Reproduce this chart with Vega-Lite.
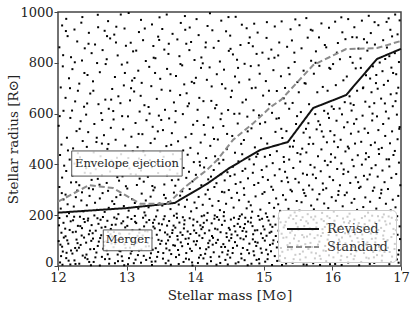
{
"$schema": "https://vega.github.io/schema/vega-lite/v6.json",
"width": 343, "height": 254,
"autosize": {"type": "none"},
"padding": {"left": 58, "top": 12, "right": 14, "bottom": 44},
"background": "white",
"config": {
  "font": "'DejaVu Serif', serif",
  "view": {"stroke": "#444", "strokeWidth": 1.5},
  "axis": {"grid": false, "domain": false, "tickColor": "#444", "tickSize": 4, "labelPadding": 1, "labelFont": "'DejaVu Serif', serif", "labelFontSize": 13, "labelColor": "#222", "titleFont": "'DejaVu Serif', serif", "titleFontSize": 13.5, "titleFontWeight": "normal", "titleColor": "#222"}
},
"datasets": {
"lines": [
{"m":12,"r":210,"s":"Revised"},{"m":12.5,"r":219,"s":"Revised"},{"m":13,"r":228,"s":"Revised"},{"m":13.7,"r":248,"s":"Revised"},{"m":14.17,"r":323,"s":"Revised"},{"m":14.5,"r":386,"s":"Revised"},{"m":14.95,"r":457,"s":"Revised"},{"m":15.35,"r":488,"s":"Revised"},{"m":15.72,"r":622,"s":"Revised"},{"m":16.2,"r":673,"s":"Revised"},{"m":16.65,"r":815,"s":"Revised"},{"m":17,"r":855,"s":"Revised"},
{"m":12,"r":253,"s":"Standard"},{"m":12.45,"r":318,"s":"Standard"},{"m":12.8,"r":307,"s":"Standard"},{"m":13.2,"r":245,"s":"Standard"},{"m":13.6,"r":245,"s":"Standard"},{"m":13.85,"r":311,"s":"Standard"},{"m":14.17,"r":378,"s":"Standard"},{"m":14.32,"r":417,"s":"Standard"},{"m":14.55,"r":496,"s":"Standard"},{"m":14.85,"r":563,"s":"Standard"},{"m":15.1,"r":626,"s":"Standard"},{"m":15.25,"r":654,"s":"Standard"},{"m":15.72,"r":791,"s":"Standard"},{"m":16.2,"r":854,"s":"Standard"},{"m":16.65,"r":858,"s":"Standard"},{"m":17,"r":886,"s":"Standard"}
],
"boxes": [
{"label":"Envelope ejection","x1":12.2,"x2":13.81,"y1":354,"y2":453,"xc":13.005,"yc":403},
{"label":"Merger","x1":12.66,"x2":13.37,"y1":60,"y2":142,"xc":13.015,"yc":101}
],
"pts": [
{"m":12.03,"r":14},{"m":12.07,"r":57},{"m":12.01,"r":98},{"m":12.05,"r":131},{"m":12.08,"r":170},{"m":12.02,"r":189},{"m":12.06,"r":76},
{"m":12.04,"r":226},{"m":12.08,"r":262},{"m":12.02,"r":311},{"m":12.06,"r":348},{"m":12.09,"r":395},{"m":12.03,"r":437},
{"m":12.05,"r":478},{"m":12.01,"r":552},{"m":12.08,"r":611},{"m":12.04,"r":703},{"m":12.07,"r":786},{"m":12.02,"r":861},{"m":12.06,"r":947},
{"m":12.12,"r":31},{"m":12.18,"r":6},{"m":12.15,"r":88},{"m":12.11,"r":117},{"m":12.17,"r":142},{"m":12.13,"r":196},{"m":12.19,"r":61},
{"m":12.16,"r":208},{"m":12.11,"r":281},{"m":12.14,"r":243},{"m":12.19,"r":329},{"m":12.12,"r":374},{"m":12.17,"r":419},
{"m":12.13,"r":505},{"m":12.18,"r":583},{"m":12.11,"r":662},{"m":12.16,"r":739},{"m":12.19,"r":822},{"m":12.14,"r":905},{"m":12.12,"r":973},
{"m":12.24,"r":22},{"m":12.21,"r":49},{"m":12.27,"r":104},{"m":12.29,"r":158},{"m":12.22,"r":180},{"m":12.26,"r":135},{"m":12.25,"r":71},
{"m":12.23,"r":234},{"m":12.28,"r":297},{"m":12.21,"r":356},{"m":12.26,"r":271},{"m":12.24,"r":403},{"m":12.29,"r":444},
{"m":12.22,"r":463},{"m":12.27,"r":531},{"m":12.25,"r":648},{"m":12.29,"r":690},{"m":12.21,"r":775},{"m":12.28,"r":884},{"m":12.24,"r":931},
{"m":12.31,"r":9},{"m":12.36,"r":41},{"m":12.33,"r":83},{"m":12.38,"r":112},{"m":12.35,"r":149},{"m":12.39,"r":173},{"m":12.32,"r":194},
{"m":12.37,"r":215},{"m":12.34,"r":258},{"m":12.31,"r":318},{"m":12.39,"r":367},{"m":12.35,"r":290},{"m":12.32,"r":428},
{"m":12.36,"r":492},{"m":12.33,"r":570},{"m":12.38,"r":627},{"m":12.31,"r":718},{"m":12.35,"r":809},{"m":12.39,"r":857},{"m":12.34,"r":958},
{"m":12.43,"r":27},{"m":12.47,"r":66},{"m":12.41,"r":92},{"m":12.45,"r":125},{"m":12.49,"r":161},{"m":12.44,"r":187},{"m":12.48,"r":3},
{"m":12.42,"r":239},{"m":12.46,"r":276},{"m":12.49,"r":339},{"m":12.41,"r":385},{"m":12.45,"r":306},{"m":12.48,"r":411},
{"m":12.44,"r":527},{"m":12.41,"r":596},{"m":12.47,"r":679},{"m":12.43,"r":752},{"m":12.49,"r":838},{"m":12.45,"r":918},{"m":12.42,"r":469},
{"m":12.52,"r":16},{"m":12.56,"r":53},{"m":12.58,"r":79},{"m":12.51,"r":108},{"m":12.55,"r":139},{"m":12.59,"r":166},{"m":12.53,"r":199},
{"m":12.57,"r":221},{"m":12.54,"r":249},{"m":12.51,"r":302},{"m":12.58,"r":343},{"m":12.55,"r":381},{"m":12.52,"r":447},
{"m":12.56,"r":488},{"m":12.53,"r":559},{"m":12.59,"r":637},{"m":12.51,"r":727},{"m":12.57,"r":799},{"m":12.54,"r":872},{"m":12.58,"r":989},
{"m":12.64,"r":36},{"m":12.61,"r":2},{"m":12.67,"r":95},{"m":12.63,"r":121},{"m":12.69,"r":154},{"m":12.62,"r":182},{"m":12.66,"r":68},
{"m":12.68,"r":213},{"m":12.65,"r":287},{"m":12.61,"r":266},{"m":12.64,"r":358},{"m":12.69,"r":399},{"m":12.62,"r":432},
{"m":12.67,"r":515},{"m":12.63,"r":602},{"m":12.69,"r":655},{"m":12.61,"r":763},{"m":12.65,"r":850},{"m":12.68,"r":926},{"m":12.64,"r":482},
{"m":12.75,"r":28},{"m":12.71,"r":62},{"m":12.78,"r":89},{"m":12.73,"r":134},{"m":12.77,"r":146},{"m":12.72,"r":178},{"m":12.79,"r":116},
{"m":12.74,"r":229},{"m":12.79,"r":255},{"m":12.71,"r":327},{"m":12.76,"r":372},{"m":12.73,"r":296},{"m":12.78,"r":415},
{"m":12.72,"r":461},{"m":12.77,"r":544},{"m":12.74,"r":619},{"m":12.79,"r":697},{"m":12.71,"r":814},{"m":12.76,"r":896},{"m":12.73,"r":964},
{"m":12.83,"r":11},{"m":12.87,"r":45},{"m":12.81,"r":74},{"m":12.86,"r":102},{"m":12.89,"r":128},{"m":12.84,"r":163},{"m":12.82,"r":191},
{"m":12.88,"r":204},{"m":12.85,"r":271},{"m":12.82,"r":244},{"m":12.89,"r":336},{"m":12.81,"r":390},{"m":12.86,"r":426},
{"m":12.84,"r":497},{"m":12.81,"r":577},{"m":12.88,"r":668},{"m":12.83,"r":744},{"m":12.87,"r":829},{"m":12.82,"r":911},{"m":12.85,"r":942},
{"m":12.94,"r":20},{"m":12.91,"r":58},{"m":12.97,"r":85},{"m":12.92,"r":113},{"m":12.98,"r":152},{"m":12.95,"r":176},{"m":12.93,"r":38},
{"m":12.96,"r":236},{"m":12.91,"r":280},{"m":12.99,"r":314},{"m":12.94,"r":353},{"m":12.97,"r":408},{"m":12.92,"r":440},
{"m":12.98,"r":474},{"m":12.95,"r":538},{"m":12.91,"r":641},{"m":12.96,"r":711},{"m":12.93,"r":793},{"m":12.99,"r":867},{"m":12.97,"r":935},
{"m":13.02,"r":7},{"m":13.06,"r":49},{"m":13.09,"r":96},{"m":13.04,"r":127},{"m":13.01,"r":158},{"m":13.07,"r":185},{"m":13.05,"r":72},
{"m":13.03,"r":218},{"m":13.08,"r":263},{"m":13.01,"r":305},{"m":13.06,"r":362},{"m":13.04,"r":384},{"m":13.09,"r":451},
{"m":13.07,"r":509},{"m":13.02,"r":589},{"m":13.05,"r":652},{"m":13.08,"r":730},{"m":13.01,"r":801},{"m":13.06,"r":879},{"m":13.03,"r":996},
{"m":13.13,"r":25},{"m":13.18,"r":61},{"m":13.11,"r":81},{"m":13.16,"r":119},{"m":13.19,"r":143},{"m":13.14,"r":169},{"m":13.12,"r":197},
{"m":13.17,"r":226},{"m":13.12,"r":248},{"m":13.15,"r":319},{"m":13.19,"r":344},{"m":13.11,"r":397},{"m":13.18,"r":423},
{"m":13.16,"r":468},{"m":13.13,"r":563},{"m":13.19,"r":608},{"m":13.11,"r":687},{"m":13.17,"r":769},{"m":13.14,"r":848},{"m":13.18,"r":921},
{"m":13.21,"r":13},{"m":13.25,"r":40},{"m":13.28,"r":77},{"m":13.23,"r":106},{"m":13.27,"r":137},{"m":13.29,"r":172},{"m":13.24,"r":190},
{"m":13.26,"r":211},{"m":13.22,"r":285},{"m":13.28,"r":258},{"m":13.25,"r":332},{"m":13.21,"r":376},{"m":13.27,"r":436},
{"m":13.23,"r":519},{"m":13.29,"r":574},{"m":13.26,"r":633},{"m":13.22,"r":721},{"m":13.28,"r":807},{"m":13.24,"r":889},{"m":13.21,"r":969},
{"m":13.34,"r":32},{"m":13.37,"r":4},{"m":13.31,"r":91},{"m":13.36,"r":110},{"m":13.39,"r":155},{"m":13.33,"r":181},{"m":13.38,"r":64},
{"m":13.32,"r":231},{"m":13.35,"r":273},{"m":13.39,"r":298},{"m":13.31,"r":351},{"m":13.37,"r":389},{"m":13.34,"r":417},
{"m":13.35,"r":484},{"m":13.38,"r":548},{"m":13.32,"r":626},{"m":13.36,"r":708},{"m":13.33,"r":784},{"m":13.39,"r":866},{"m":13.37,"r":951},
{"m":13.42,"r":18},{"m":13.46,"r":55},{"m":13.49,"r":87},{"m":13.44,"r":123},{"m":13.41,"r":148},{"m":13.47,"r":167},{"m":13.43,"r":195},
{"m":13.45,"r":219},{"m":13.48,"r":246},{"m":13.41,"r":309},{"m":13.46,"r":366},{"m":13.43,"r":402},{"m":13.49,"r":449},
{"m":13.41,"r":501},{"m":13.47,"r":592},{"m":13.44,"r":658},{"m":13.49,"r":737},{"m":13.42,"r":818},{"m":13.46,"r":903},{"m":13.48,"r":979},
{"m":13.53,"r":29},{"m":13.58,"r":69},{"m":13.51,"r":99},{"m":13.56,"r":132},{"m":13.59,"r":159},{"m":13.54,"r":184},{"m":13.57,"r":11},
{"m":13.52,"r":238},{"m":13.57,"r":267},{"m":13.55,"r":321},{"m":13.59,"r":357},{"m":13.51,"r":393},{"m":13.54,"r":430},
{"m":13.58,"r":472},{"m":13.53,"r":535},{"m":13.56,"r":615},{"m":13.51,"r":694},{"m":13.59,"r":776},{"m":13.55,"r":852},{"m":13.52,"r":933},
{"m":13.61,"r":21},{"m":13.65,"r":47},{"m":13.68,"r":82},{"m":13.63,"r":115},{"m":13.67,"r":141},{"m":13.62,"r":177},{"m":13.69,"r":198},
{"m":13.64,"r":224},{"m":13.69,"r":289},{"m":13.61,"r":252},{"m":13.66,"r":338},{"m":13.63,"r":379},{"m":13.68,"r":413},
{"m":13.66,"r":523},{"m":13.62,"r":581},{"m":13.69,"r":644},{"m":13.64,"r":755},{"m":13.61,"r":835},{"m":13.67,"r":914},{"m":13.65,"r":477},
{"m":13.72,"r":35},{"m":13.76,"r":8},{"m":13.79,"r":93},{"m":13.74,"r":118},{"m":13.71,"r":151},{"m":13.77,"r":171},{"m":13.75,"r":63},
{"m":13.73,"r":206},{"m":13.78,"r":277},{"m":13.71,"r":316},{"m":13.76,"r":242},{"m":13.74,"r":364},{"m":13.79,"r":421},
{"m":13.75,"r":491},{"m":13.71,"r":566},{"m":13.78,"r":673},{"m":13.72,"r":748},{"m":13.77,"r":826},{"m":13.74,"r":892},{"m":13.79,"r":957},
{"m":13.83,"r":16},{"m":13.87,"r":51},{"m":13.81,"r":78},{"m":13.86,"r":107},{"m":13.89,"r":136},{"m":13.84,"r":164},{"m":13.82,"r":192},
{"m":13.85,"r":233},{"m":13.88,"r":261},{"m":13.81,"r":294},{"m":13.87,"r":347},{"m":13.83,"r":386},{"m":13.89,"r":438},
{"m":13.86,"r":507},{"m":13.82,"r":598},{"m":13.89,"r":629},{"m":13.84,"r":715},{"m":13.81,"r":790},{"m":13.87,"r":875},{"m":13.85,"r":984},
{"m":13.91,"r":26},{"m":13.95,"r":59},{"m":13.98,"r":97},{"m":13.93,"r":126},{"m":13.97,"r":160},{"m":13.92,"r":188},{"m":13.96,"r":2},
{"m":13.94,"r":215},{"m":13.99,"r":250},{"m":13.92,"r":303},{"m":13.96,"r":333},{"m":13.91,"r":371},{"m":13.98,"r":409},
{"m":13.93,"r":465},{"m":13.97,"r":556},{"m":13.91,"r":640},{"m":13.95,"r":725},{"m":13.99,"r":811},{"m":13.94,"r":882},{"m":13.92,"r":939},
{"m":14.04,"r":12},{"m":14.08,"r":43},{"m":14.01,"r":84},{"m":14.06,"r":120},{"m":14.09,"r":145},{"m":14.03,"r":174},{"m":14.07,"r":70},
{"m":14.02,"r":228},{"m":14.05,"r":272},{"m":14.09,"r":318},{"m":14.01,"r":359},{"m":14.07,"r":396},{"m":14.04,"r":443},
{"m":14.08,"r":486},{"m":14.03,"r":571},{"m":14.06,"r":662},{"m":14.01,"r":741},{"m":14.09,"r":821},{"m":14.05,"r":909},{"m":14.02,"r":972},
{"m":14.12,"r":30},{"m":14.16,"r":66},{"m":14.19,"r":90},{"m":14.14,"r":129},{"m":14.11,"r":153},{"m":14.17,"r":180},{"m":14.13,"r":199},
{"m":14.18,"r":209},{"m":14.15,"r":282},{"m":14.11,"r":241},{"m":14.19,"r":341},{"m":14.13,"r":388},{"m":14.16,"r":425},
{"m":14.14,"r":517},{"m":14.19,"r":585},{"m":14.12,"r":649},{"m":14.17,"r":733},{"m":14.11,"r":798},{"m":14.15,"r":861},{"m":14.18,"r":945},
{"m":14.23,"r":19},{"m":14.27,"r":54},{"m":14.21,"r":100},{"m":14.26,"r":111},{"m":14.29,"r":147},{"m":14.24,"r":168},{"m":14.28,"r":186},
{"m":14.25,"r":237},{"m":14.21,"r":264},{"m":14.28,"r":311},{"m":14.23,"r":352},{"m":14.27,"r":378},{"m":14.29,"r":432},
{"m":14.22,"r":473},{"m":14.26,"r":545},{"m":14.29,"r":621},{"m":14.24,"r":707},{"m":14.21,"r":782},{"m":14.27,"r":859},{"m":14.25,"r":928},
{"m":14.31,"r":5},{"m":14.35,"r":37},{"m":14.38,"r":75},{"m":14.33,"r":103},{"m":14.37,"r":133},{"m":14.39,"r":162},{"m":14.32,"r":193},
{"m":14.36,"r":220},{"m":14.34,"r":256},{"m":14.39,"r":292},{"m":14.31,"r":326},{"m":14.38,"r":361},{"m":14.35,"r":404},
{"m":14.33,"r":498},{"m":14.37,"r":578},{"m":14.31,"r":634},{"m":14.39,"r":716},{"m":14.36,"r":805},{"m":14.34,"r":886},{"m":14.38,"r":966},
{"m":14.44,"r":24},{"m":14.48,"r":60},{"m":14.41,"r":86},{"m":14.46,"r":114},{"m":14.49,"r":150},{"m":14.43,"r":178},{"m":14.47,"r":45},
{"m":14.42,"r":212},{"m":14.45,"r":245},{"m":14.49,"r":299},{"m":14.43,"r":337},{"m":14.47,"r":369},{"m":14.41,"r":418},
{"m":14.46,"r":460},{"m":14.41,"r":551},{"m":14.48,"r":614},{"m":14.44,"r":699},{"m":14.42,"r":773},{"m":14.49,"r":847},{"m":14.45,"r":924},
{"m":14.51,"r":33},{"m":14.55,"r":71},{"m":14.58,"r":94},{"m":14.53,"r":124},{"m":14.57,"r":157},{"m":14.52,"r":183},{"m":14.59,"r":10},
{"m":14.56,"r":230},{"m":14.53,"r":268},{"m":14.59,"r":323},{"m":14.51,"r":354},{"m":14.55,"r":391},{"m":14.58,"r":446},
{"m":14.54,"r":512},{"m":14.57,"r":599},{"m":14.52,"r":665},{"m":14.58,"r":746},{"m":14.55,"r":833},{"m":14.51,"r":907},{"m":14.59,"r":981},
{"m":14.63,"r":15},{"m":14.67,"r":48},{"m":14.61,"r":80},{"m":14.66,"r":109},{"m":14.69,"r":138},{"m":14.62,"r":166},{"m":14.65,"r":196},
{"m":14.68,"r":203},{"m":14.64,"r":259},{"m":14.61,"r":288},{"m":14.66,"r":330},{"m":14.69,"r":374},{"m":14.63,"r":412},
{"m":14.67,"r":481},{"m":14.62,"r":561},{"m":14.69,"r":644},{"m":14.64,"r":723},{"m":14.61,"r":812},{"m":14.66,"r":870},{"m":14.68,"r":950},
{"m":14.72,"r":23},{"m":14.76,"r":63},{"m":14.79,"r":88},{"m":14.74,"r":117},{"m":14.71,"r":149},{"m":14.77,"r":175},{"m":14.73,"r":190},
{"m":14.75,"r":227},{"m":14.78,"r":253},{"m":14.71,"r":306},{"m":14.77,"r":345},{"m":14.73,"r":383},{"m":14.79,"r":420},
{"m":14.71,"r":496},{"m":14.76,"r":588},{"m":14.74,"r":655},{"m":14.79,"r":734},{"m":14.72,"r":796},{"m":14.78,"r":878},{"m":14.75,"r":936},
{"m":14.82,"r":9},{"m":14.86,"r":42},{"m":14.89,"r":79},{"m":14.84,"r":105},{"m":14.87,"r":140},{"m":14.81,"r":171},{"m":14.85,"r":58},
{"m":14.83,"r":214},{"m":14.88,"r":274},{"m":14.81,"r":239},{"m":14.86,"r":319},{"m":14.84,"r":367},{"m":14.89,"r":430},
{"m":14.87,"r":467},{"m":14.82,"r":542},{"m":14.85,"r":613},{"m":14.88,"r":702},{"m":14.81,"r":787},{"m":14.84,"r":865},{"m":14.86,"r":954},
{"m":14.93,"r":27},{"m":14.97,"r":52},{"m":14.91,"r":92},{"m":14.96,"r":128},{"m":14.99,"r":156},{"m":14.94,"r":182},{"m":14.92,"r":197},
{"m":14.95,"r":222},{"m":14.98,"r":284},{"m":14.92,"r":327},{"m":14.97,"r":378},{"m":14.91,"r":441},
{"m":14.96,"r":503},{"m":14.93,"r":593},{"m":14.99,"r":671},{"m":14.94,"r":757},{"m":14.98,"r":840},{"m":14.91,"r":919},
{"m":15.02,"r":17},{"m":15.06,"r":46},{"m":15.09,"r":83},{"m":15.04,"r":119},{"m":15.01,"r":144},{"m":15.07,"r":179},{"m":15.05,"r":193},
{"m":15.03,"r":207},{"m":15.08,"r":248},{"m":15.01,"r":291},{"m":15.06,"r":339},{"m":15.04,"r":392},{"m":15.09,"r":437},
{"m":15.05,"r":482},{"m":15.02,"r":566},{"m":15.08,"r":637},{"m":15.03,"r":728},{"m":15.07,"r":816},{"m":15.04,"r":898},
{"m":15.12,"r":4},{"m":15.16,"r":39},{"m":15.19,"r":73},{"m":15.14,"r":101},{"m":15.11,"r":135},{"m":15.17,"r":163},{"m":15.13,"r":88},
{"m":15.15,"r":229},{"m":15.18,"r":266},{"m":15.11,"r":312},{"m":15.16,"r":357},{"m":15.13,"r":405},{"m":15.19,"r":452},
{"m":15.17,"r":528},{"m":15.12,"r":603},{"m":15.19,"r":689},{"m":15.14,"r":771},{"m":15.11,"r":852},{"m":15.16,"r":943},
{"m":15.23,"r":22},{"m":15.27,"r":56},{"m":15.21,"r":95},{"m":15.26,"r":127},{"m":15.29,"r":152},{"m":15.22,"r":187},{"m":15.25,"r":71},
{"m":15.24,"r":217},{"m":15.28,"r":279},{"m":15.21,"r":243},{"m":15.26,"r":334},{"m":15.23,"r":381},{"m":15.29,"r":429},
{"m":15.27,"r":504},{"m":15.22,"r":582},{"m":15.29,"r":660},{"m":15.25,"r":747},{"m":15.21,"r":829},{"m":15.26,"r":963},
{"m":15.31,"r":31},{"m":15.35,"r":64},{"m":15.38,"r":90},{"m":15.33,"r":113},{"m":15.37,"r":146},{"m":15.32,"r":174},{"m":15.39,"r":199},
{"m":15.36,"r":225},{"m":15.32,"r":261},{"m":15.39,"r":300},{"m":15.34,"r":348},{"m":15.31,"r":371},{"m":15.37,"r":419},{"m":15.38,"r":470},
{"m":15.33,"r":531},{"m":15.37,"r":619},{"m":15.31,"r":701},{"m":15.36,"r":780},{"m":15.34,"r":863},{"m":15.39,"r":932},
{"m":15.42,"r":13},{"m":15.46,"r":44},{"m":15.49,"r":81},{"m":15.44,"r":108},{"m":15.41,"r":139},{"m":15.47,"r":168},{"m":15.43,"r":185},
{"m":15.45,"r":211},{"m":15.48,"r":256},{"m":15.41,"r":294},{"m":15.46,"r":343},{"m":15.43,"r":386},{"m":15.49,"r":445},{"m":15.44,"r":493},
{"m":15.47,"r":559},{"m":15.42,"r":642},{"m":15.49,"r":724},{"m":15.45,"r":803},{"m":15.41,"r":888},{"m":15.46,"r":971},
{"m":15.53,"r":25},{"m":15.57,"r":57},{"m":15.51,"r":98},{"m":15.56,"r":122},{"m":15.59,"r":157},{"m":15.54,"r":181},{"m":15.58,"r":6},
{"m":15.52,"r":218},{"m":15.55,"r":251},{"m":15.59,"r":287},{"m":15.51,"r":329},{"m":15.57,"r":364},{"m":15.53,"r":411},{"m":15.56,"r":462},{"m":15.58,"r":525},
{"m":15.54,"r":606},{"m":15.51,"r":684},{"m":15.58,"r":769},{"m":15.55,"r":857},{"m":15.52,"r":948},
{"m":15.61,"r":34},{"m":15.65,"r":67},{"m":15.68,"r":91},{"m":15.63,"r":116},{"m":15.67,"r":148},{"m":15.62,"r":176},{"m":15.69,"r":192},
{"m":15.64,"r":204},{"m":15.69,"r":238},{"m":15.61,"r":276},{"m":15.66,"r":317},{"m":15.63,"r":359},{"m":15.68,"r":398},{"m":15.62,"r":447},{"m":15.67,"r":506},{"m":15.65,"r":562},
{"m":15.66,"r":637},{"m":15.61,"r":718},{"m":15.69,"r":808},{"m":15.64,"r":899},{"m":15.62,"r":976},
{"m":15.72,"r":11},{"m":15.76,"r":50},{"m":15.79,"r":84},{"m":15.74,"r":110},{"m":15.71,"r":143},{"m":15.77,"r":170},{"m":15.75,"r":195},
{"m":15.73,"r":223},{"m":15.78,"r":262},{"m":15.71,"r":301},{"m":15.76,"r":346},{"m":15.74,"r":388},{"m":15.79,"r":432},{"m":15.72,"r":481},{"m":15.77,"r":538},{"m":15.75,"r":598},
{"m":15.78,"r":684},{"m":15.73,"r":757},{"m":15.76,"r":845},{"m":15.71,"r":927},
{"m":15.83,"r":28},{"m":15.87,"r":61},{"m":15.81,"r":96},{"m":15.86,"r":130},{"m":15.89,"r":154},{"m":15.84,"r":184},{"m":15.82,"r":4},
{"m":15.85,"r":209},{"m":15.88,"r":246},{"m":15.81,"r":283},{"m":15.86,"r":325},{"m":15.83,"r":373},{"m":15.89,"r":414},{"m":15.84,"r":459},{"m":15.87,"r":509},{"m":15.82,"r":556},{"m":15.88,"r":611},
{"m":15.86,"r":705},{"m":15.81,"r":788},{"m":15.89,"r":870},{"m":15.84,"r":955},
{"m":15.91,"r":19},{"m":15.95,"r":42},{"m":15.98,"r":77},{"m":15.93,"r":104},{"m":15.97,"r":138},{"m":15.92,"r":166},{"m":15.96,"r":189},
{"m":15.94,"r":228},{"m":15.99,"r":271},{"m":15.91,"r":306},{"m":15.96,"r":351},{"m":15.93,"r":397},{"m":15.98,"r":440},{"m":15.92,"r":487},{"m":15.97,"r":531},{"m":15.95,"r":583},{"m":15.99,"r":628},
{"m":15.93,"r":690},{"m":15.97,"r":776},{"m":15.91,"r":861},{"m":15.95,"r":938},
{"m":16.04,"r":8},{"m":16.08,"r":53},{"m":16.01,"r":86},{"m":16.06,"r":121},{"m":16.09,"r":151},{"m":16.03,"r":178},{"m":16.07,"r":197},
{"m":16.02,"r":214},{"m":16.05,"r":257},{"m":16.09,"r":295},{"m":16.01,"r":338},{"m":16.07,"r":382},{"m":16.04,"r":427},{"m":16.08,"r":468},{"m":16.03,"r":515},{"m":16.06,"r":572},{"m":16.02,"r":618},
{"m":16.05,"r":712},{"m":16.01,"r":795},{"m":16.08,"r":878},{"m":16.04,"r":962},
{"m":16.12,"r":23},{"m":16.16,"r":65},{"m":16.19,"r":89},{"m":16.14,"r":112},{"m":16.11,"r":147},{"m":16.17,"r":172},{"m":16.13,"r":40},
{"m":16.15,"r":235},{"m":16.18,"r":279},{"m":16.11,"r":318},{"m":16.16,"r":362},{"m":16.13,"r":404},{"m":16.19,"r":451},{"m":16.12,"r":497},{"m":16.17,"r":546},{"m":16.14,"r":597},{"m":16.18,"r":645},
{"m":16.16,"r":731},{"m":16.11,"r":814},{"m":16.19,"r":893},{"m":16.13,"r":979},
{"m":16.23,"r":14},{"m":16.27,"r":47},{"m":16.21,"r":80},{"m":16.26,"r":117},{"m":16.29,"r":141},{"m":16.24,"r":169},{"m":16.22,"r":194},
{"m":16.25,"r":206},{"m":16.28,"r":249},{"m":16.21,"r":289},{"m":16.26,"r":327},{"m":16.23,"r":371},{"m":16.29,"r":418},{"m":16.24,"r":463},{"m":16.27,"r":521},{"m":16.22,"r":566},{"m":16.28,"r":612},{"m":16.25,"r":668},
{"m":16.21,"r":746},{"m":16.26,"r":823},{"m":16.29,"r":901},{"m":16.23,"r":972},
{"m":16.31,"r":27},{"m":16.35,"r":58},{"m":16.38,"r":94},{"m":16.33,"r":125},{"m":16.37,"r":159},{"m":16.32,"r":183},{"m":16.39,"r":3},
{"m":16.36,"r":221},{"m":16.32,"r":264},{"m":16.39,"r":307},{"m":16.34,"r":349},{"m":16.31,"r":393},{"m":16.37,"r":436},{"m":16.33,"r":482},{"m":16.38,"r":529},{"m":16.35,"r":578},{"m":16.31,"r":634},{"m":16.36,"r":690},
{"m":16.34,"r":778},{"m":16.38,"r":856},{"m":16.32,"r":940},
{"m":16.42,"r":16},{"m":16.46,"r":51},{"m":16.49,"r":85},{"m":16.44,"r":106},{"m":16.41,"r":137},{"m":16.47,"r":165},{"m":16.43,"r":189},
{"m":16.45,"r":232},{"m":16.48,"r":270},{"m":16.41,"r":312},{"m":16.46,"r":355},{"m":16.43,"r":399},{"m":16.49,"r":444},{"m":16.42,"r":489},{"m":16.47,"r":541},{"m":16.44,"r":592},{"m":16.48,"r":647},{"m":16.45,"r":703},{"m":16.49,"r":751},
{"m":16.41,"r":817},{"m":16.46,"r":893},{"m":16.43,"r":966},
{"m":16.53,"r":30},{"m":16.57,"r":69},{"m":16.51,"r":93},{"m":16.56,"r":128},{"m":16.59,"r":155},{"m":16.54,"r":179},{"m":16.58,"r":198},
{"m":16.52,"r":210},{"m":16.55,"r":253},{"m":16.59,"r":296},{"m":16.51,"r":341},{"m":16.57,"r":385},{"m":16.53,"r":429},{"m":16.56,"r":476},{"m":16.52,"r":524},{"m":16.58,"r":573},{"m":16.54,"r":627},{"m":16.57,"r":684},{"m":16.55,"r":738},{"m":16.59,"r":786},
{"m":16.51,"r":848},{"m":16.56,"r":917},{"m":16.53,"r":985},
{"m":16.61,"r":12},{"m":16.65,"r":43},{"m":16.68,"r":76},{"m":16.63,"r":109},{"m":16.67,"r":142},{"m":16.62,"r":171},{"m":16.69,"r":61},
{"m":16.64,"r":226},{"m":16.69,"r":268},{"m":16.61,"r":309},{"m":16.66,"r":352},{"m":16.63,"r":397},{"m":16.68,"r":441},{"m":16.62,"r":486},{"m":16.67,"r":535},{"m":16.65,"r":589},{"m":16.61,"r":641},{"m":16.66,"r":698},{"m":16.64,"r":752},{"m":16.69,"r":801},
{"m":16.62,"r":872},{"m":16.67,"r":948},
{"m":16.72,"r":21},{"m":16.76,"r":55},{"m":16.79,"r":98},{"m":16.74,"r":120},{"m":16.71,"r":150},{"m":16.77,"r":176},{"m":16.73,"r":192},
{"m":16.75,"r":203},{"m":16.78,"r":245},{"m":16.71,"r":286},{"m":16.76,"r":330},{"m":16.73,"r":376},{"m":16.79,"r":420},{"m":16.72,"r":465},{"m":16.77,"r":512},{"m":16.74,"r":559},{"m":16.78,"r":608},{"m":16.71,"r":659},{"m":16.75,"r":713},{"m":16.73,"r":767},{"m":16.77,"r":815},
{"m":16.74,"r":889},{"m":16.79,"r":961},
{"m":16.83,"r":7},{"m":16.87,"r":37},{"m":16.81,"r":72},{"m":16.86,"r":114},{"m":16.89,"r":146},{"m":16.84,"r":167},{"m":16.82,"r":195},
{"m":16.85,"r":219},{"m":16.88,"r":261},{"m":16.81,"r":303},{"m":16.86,"r":347},{"m":16.83,"r":392},{"m":16.89,"r":437},{"m":16.84,"r":483},{"m":16.87,"r":530},{"m":16.82,"r":581},{"m":16.88,"r":629},{"m":16.85,"r":676},{"m":16.81,"r":729},{"m":16.86,"r":781},{"m":16.83,"r":826},
{"m":16.87,"r":904},{"m":16.82,"r":975},
{"m":16.94,"r":26},{"m":16.97,"r":62},{"m":16.91,"r":87},{"m":16.95,"r":123},{"m":16.98,"r":156},{"m":16.93,"r":181},{"m":16.96,"r":45},
{"m":16.92,"r":231},{"m":16.96,"r":276},{"m":16.99,"r":318},{"m":16.93,"r":362},{"m":16.97,"r":407},{"m":16.91,"r":453},{"m":16.95,"r":499},{"m":16.98,"r":547},{"m":16.94,"r":596},{"m":16.92,"r":649},{"m":16.96,"r":702},{"m":16.93,"r":755},{"m":16.97,"r":803},{"m":16.91,"r":838},
{"m":16.95,"r":912},{"m":16.98,"r":967},
{"m":12.045,"r":39},{"m":12.085,"r":112},{"m":12.015,"r":160},{"m":12.065,"r":5},{"m":12.035,"r":84},
{"m":12.105,"r":147},{"m":12.155,"r":21},{"m":12.135,"r":101},{"m":12.185,"r":176},{"m":12.125,"r":52},
{"m":12.285,"r":90},{"m":12.215,"r":133},{"m":12.255,"r":8},{"m":12.235,"r":194},{"m":12.275,"r":61},
{"m":12.345,"r":120},{"m":12.395,"r":33},{"m":12.305,"r":72},{"m":12.375,"r":185},{"m":12.325,"r":157},
{"m":12.415,"r":45},{"m":12.465,"r":139},{"m":12.435,"r":179},{"m":12.485,"r":99},{"m":12.455,"r":16},
{"m":12.525,"r":67},{"m":12.575,"r":188},{"m":12.505,"r":129},{"m":12.545,"r":34},{"m":12.595,"r":96},
{"m":12.635,"r":151},{"m":12.685,"r":27},{"m":12.615,"r":110},{"m":12.655,"r":193},{"m":12.675,"r":80},
{"m":12.745,"r":9},{"m":12.705,"r":97},{"m":12.785,"r":162},{"m":12.725,"r":46},{"m":12.765,"r":125},
{"m":12.855,"r":186},{"m":12.815,"r":134},{"m":12.895,"r":60},{"m":12.835,"r":88},{"m":12.875,"r":19},
{"m":12.905,"r":127},{"m":12.965,"r":3},{"m":12.925,"r":168},{"m":12.985,"r":71},{"m":12.945,"r":102},
{"m":13.035,"r":31},{"m":13.085,"r":140},{"m":13.015,"r":192},{"m":13.055,"r":108},{"m":13.075,"r":59},
{"m":13.145,"r":92},{"m":13.105,"r":11},{"m":13.185,"r":131},{"m":13.125,"r":174},{"m":13.165,"r":43},
{"m":13.255,"r":156},{"m":13.215,"r":65},{"m":13.285,"r":24},{"m":13.235,"r":120},{"m":13.275,"r":199},
{"m":13.305,"r":136},{"m":13.355,"r":50},{"m":13.385,"r":170},{"m":13.325,"r":78},{"m":13.365,"r":17},
{"m":13.465,"r":103},{"m":13.405,"r":182},{"m":13.445,"r":36},{"m":13.485,"r":141},{"m":13.425,"r":70},
{"m":13.515,"r":164},{"m":13.575,"r":88},{"m":13.535,"r":51},{"m":13.595,"r":124},{"m":13.555,"r":196},
{"m":13.645,"r":5},{"m":13.605,"r":101},{"m":13.685,"r":159},{"m":13.625,"r":62},{"m":13.665,"r":130},
{"m":13.735,"r":190},{"m":13.785,"r":132},{"m":13.705,"r":80},{"m":13.765,"r":44},{"m":13.745,"r":104},
{"m":13.815,"r":122},{"m":13.865,"r":29},{"m":13.845,"r":180},{"m":13.895,"r":87},{"m":13.835,"r":148},
{"m":13.955,"r":14},{"m":13.905,"r":109},{"m":13.975,"r":183},{"m":13.925,"r":68},{"m":13.985,"r":140},
{"m":14.025,"r":98},{"m":14.075,"r":160},{"m":14.055,"r":33},{"m":14.095,"r":196},{"m":14.015,"r":130},
{"m":14.145,"r":48},{"m":14.105,"r":110},{"m":14.175,"r":9},{"m":14.125,"r":170},{"m":14.195,"r":74},
{"m":14.205,"r":140},{"m":14.255,"r":84},{"m":14.225,"r":35},{"m":14.285,"r":199},{"m":14.245,"r":118},
{"m":14.365,"r":12},{"m":14.325,"r":144},{"m":14.395,"r":54},{"m":14.345,"r":182},{"m":14.305,"r":91},
{"m":14.455,"r":129},{"m":14.415,"r":196},{"m":14.475,"r":6},{"m":14.435,"r":75},{"m":14.495,"r":100},
{"m":14.545,"r":51},{"m":14.505,"r":143},{"m":14.565,"r":190},{"m":14.525,"r":110},{"m":14.585,"r":136},
{"m":14.615,"r":121},{"m":14.675,"r":30},{"m":14.655,"r":154},{"m":14.695,"r":71},{"m":14.635,"r":185},
{"m":14.785,"r":50},{"m":14.745,"r":135},{"m":14.705,"r":105},{"m":14.765,"r":3},{"m":14.725,"r":165},
{"m":14.815,"r":190},{"m":14.875,"r":95},{"m":14.845,"r":125},{"m":14.895,"r":24},{"m":14.835,"r":157},
{"m":14.955,"r":69},{"m":14.905,"r":141},{"m":14.985,"r":110},{"m":14.935,"r":10},{"m":14.975,"r":186},
{"m":15.035,"r":64},{"m":15.085,"r":131},{"m":15.015,"r":100},{"m":15.055,"r":27},{"m":15.095,"r":163},
{"m":15.145,"r":195},{"m":15.105,"r":58},{"m":15.175,"r":118},{"m":15.125,"r":154},{"m":15.195,"r":20},
{"m":15.215,"r":139},{"m":15.265,"r":4},{"m":15.245,"r":172},{"m":15.285,"r":111},{"m":15.235,"r":40},
{"m":15.345,"r":82},{"m":15.305,"r":160},{"m":15.385,"r":131},{"m":15.325,"r":10},{"m":15.365,"r":190},
{"m":15.455,"r":121},{"m":15.405,"r":66},{"m":15.475,"r":197},{"m":15.435,"r":27},{"m":15.495,"r":154},
{"m":15.505,"r":144},{"m":15.545,"r":78},{"m":15.585,"r":113},{"m":15.525,"r":47},{"m":15.565,"r":192},
{"m":15.625,"r":5},{"m":15.675,"r":125},{"m":15.645,"r":168},{"m":15.605,"r":86},{"m":15.695,"r":53},
{"m":15.765,"r":152},{"m":15.705,"r":75},{"m":15.745,"r":30},{"m":15.785,"r":121},{"m":15.725,"r":183},
{"m":15.815,"r":40},{"m":15.875,"r":177},{"m":15.835,"r":118},{"m":15.895,"r":79},{"m":15.855,"r":145},
{"m":15.945,"r":122},{"m":15.905,"r":59},{"m":15.985,"r":162},{"m":15.925,"r":196},{"m":15.965,"r":7},
{"m":16.015,"r":34},{"m":16.055,"r":135},{"m":16.095,"r":104},{"m":16.035,"r":164},{"m":16.075,"r":73},
{"m":16.105,"r":96},{"m":16.155,"r":187},{"m":16.135,"r":4},{"m":16.185,"r":129},{"m":16.125,"r":158},
{"m":16.255,"r":177},{"m":16.215,"r":35},{"m":16.285,"r":99},{"m":16.235,"r":128},{"m":16.275,"r":66},
{"m":16.345,"r":144},{"m":16.305,"r":75},{"m":16.385,"r":169},{"m":16.325,"r":40},{"m":16.365,"r":110},
{"m":16.405,"r":64},{"m":16.455,"r":153},{"m":16.435,"r":124},{"m":16.495,"r":33},{"m":16.475,"r":196},
{"m":16.515,"r":155},{"m":16.575,"r":107},{"m":16.545,"r":8},{"m":16.595,"r":55},{"m":16.535,"r":140},
{"m":16.625,"r":93},{"m":16.685,"r":179},{"m":16.645,"r":127},{"m":16.605,"r":34},{"m":16.665,"r":196},
{"m":16.755,"r":138},{"m":16.705,"r":80},{"m":16.785,"r":163},{"m":16.725,"r":41},{"m":16.745,"r":106},
{"m":16.805,"r":102},{"m":16.865,"r":190},{"m":16.835,"r":55},{"m":16.895,"r":126},{"m":16.855,"r":16},
{"m":16.925,"r":141},{"m":16.985,"r":106},{"m":16.945,"r":196},{"m":16.905,"r":67},{"m":16.965,"r":13},
{"m":12.025,"r":590},{"m":12.075,"r":830},{"m":12.055,"r":287},
{"m":12.145,"r":455},{"m":12.175,"r":700},{"m":12.115,"r":925},
{"m":12.265,"r":330},{"m":12.205,"r":612},{"m":12.245,"r":802},
{"m":12.315,"r":540},{"m":12.385,"r":760},{"m":12.355,"r":980},
{"m":12.475,"r":365},{"m":12.425,"r":640},{"m":12.445,"r":875},
{"m":12.565,"r":505},{"m":12.515,"r":690},{"m":12.585,"r":940},
{"m":12.605,"r":320},{"m":12.645,"r":575},{"m":12.695,"r":795},
{"m":12.735,"r":480},{"m":12.775,"r":655},{"m":12.715,"r":905},
{"m":12.865,"r":350},{"m":12.805,"r":610},{"m":12.845,"r":880},
{"m":12.935,"r":590},{"m":12.975,"r":760},{"m":12.915,"r":990},
{"m":13.025,"r":425},{"m":13.065,"r":700},{"m":13.095,"r":845},
{"m":13.135,"r":360},{"m":13.175,"r":520},{"m":13.115,"r":740},
{"m":13.245,"r":450},{"m":13.205,"r":670},{"m":13.265,"r":935},
{"m":13.375,"r":315},{"m":13.335,"r":600},{"m":13.395,"r":820},
{"m":13.455,"r":530},{"m":13.415,"r":760},{"m":13.475,"r":890},
{"m":13.545,"r":280},{"m":13.505,"r":575},{"m":13.585,"r":990},
{"m":13.675,"r":440},{"m":13.635,"r":690},{"m":13.615,"r":875},
{"m":13.755,"r":340},{"m":13.715,"r":610},{"m":13.785,"r":795},
{"m":13.825,"r":455},{"m":13.875,"r":680},{"m":13.855,"r":930},
{"m":13.945,"r":520},{"m":13.985,"r":720},{"m":13.915,"r":850},
{"m":14.065,"r":410},{"m":14.035,"r":615},{"m":14.085,"r":780},
{"m":14.185,"r":300},{"m":14.125,"r":555},{"m":14.155,"r":880},
{"m":14.275,"r":500},{"m":14.235,"r":650},{"m":14.215,"r":995},
{"m":14.335,"r":420},{"m":14.385,"r":600},{"m":14.315,"r":755},
{"m":14.425,"r":290},{"m":14.465,"r":520},{"m":14.485,"r":980},
{"m":14.575,"r":360},{"m":14.535,"r":690},{"m":14.515,"r":855},
{"m":14.685,"r":440},{"m":14.645,"r":600},{"m":14.625,"r":780},
{"m":14.715,"r":280},{"m":14.765,"r":530},{"m":14.795,"r":900},
{"m":14.855,"r":400},{"m":14.825,"r":700},{"m":14.895,"r":835},
{"m":14.985,"r":350},{"m":14.945,"r":560},{"m":14.925,"r":790},
{"m":15.015,"r":430},{"m":15.075,"r":690},{"m":15.045,"r":960},
{"m":15.135,"r":300},{"m":15.185,"r":580},{"m":15.155,"r":820},
{"m":15.295,"r":410},{"m":15.255,"r":540},{"m":15.225,"r":880},
{"m":15.355,"r":330},{"m":15.315,"r":640},{"m":15.375,"r":755},
{"m":15.425,"r":470},{"m":15.485,"r":590},{"m":15.445,"r":840},
{"m":15.575,"r":300},{"m":15.535,"r":440},{"m":15.595,"r":720},
{"m":15.655,"r":480},{"m":15.615,"r":540},{"m":15.685,"r":930},
{"m":15.715,"r":360},{"m":15.795,"r":570},{"m":15.755,"r":800},
{"m":15.865,"r":300},{"m":15.845,"r":530},{"m":15.805,"r":900},
{"m":15.975,"r":410},{"m":15.935,"r":600},{"m":15.955,"r":780},
{"m":16.085,"r":280},{"m":16.025,"r":490},{"m":16.065,"r":840},
{"m":16.165,"r":380},{"m":16.105,"r":620},{"m":16.145,"r":920},
{"m":16.225,"r":470},{"m":16.265,"r":640},{"m":16.295,"r":800},
{"m":16.375,"r":330},{"m":16.315,"r":560},{"m":16.355,"r":900},
{"m":16.485,"r":420},{"m":16.445,"r":700},{"m":16.415,"r":780},
{"m":16.545,"r":360},{"m":16.585,"r":600},{"m":16.505,"r":880},
{"m":16.675,"r":460},{"m":16.635,"r":720},{"m":16.615,"r":960},
{"m":16.715,"r":300},{"m":16.765,"r":640},{"m":16.795,"r":860},
{"m":16.825,"r":420},{"m":16.885,"r":760},{"m":16.845,"r":930},
{"m":16.975,"r":540},{"m":16.935,"r":680},{"m":16.915,"r":990}
]
},
"layer": [
{"data": {"name": "pts"},
 "mark": {"type": "point", "shape": "square", "filled": true, "size": 4, "color": "#000", "opacity": 1},
 "encoding": {
  "x": {"field": "m", "type": "quantitative", "scale": {"domain": [12, 17], "nice": false, "zero": false}, "axis": {"title": "Stellar mass [M⊙]", "values": [12, 13, 14, 15, 16, 17], "format": "d", "labelFlush": false, "titleY": 22, "titleBaseline": "top"}},
  "y": {"field": "r", "type": "quantitative", "scale": {"domain": [0, 1000], "nice": false}, "axis": {"title": "Stellar radius [R⊙]", "values": [0, 200, 400, 600, 800, 1000], "format": "d", "titleX": -38, "titleY": 127, "labelBaseline": {"condition": {"test": "datum.value == 0", "value": "alphabetic"}, "value": "middle"}}}
 }},
{"data": {"name": "lines"},
 "mark": {"type": "line", "strokeWidth": 2},
 "encoding": {
  "x": {"field": "m", "type": "quantitative"},
  "y": {"field": "r", "type": "quantitative"},
  "color": {"field": "s", "type": "nominal", "scale": {"domain": ["Revised", "Standard"], "range": ["#111111", "#8c8c8c"]},
   "legend": {"title": null, "orient": "none", "legendX": 220, "legendY": 198, "fillColor": "rgba(255,255,255,0.8)", "strokeColor": "#cccccc", "cornerRadius": 4, "padding": 8, "labelFont": "'DejaVu Serif', serif", "labelFontSize": 13, "labelColor": "#333", "symbolType": "M-1.6,0H1.6", "symbolSize": 400, "symbolStrokeWidth": 2, "symbolOffset": 6, "labelOffset": 13, "rowPadding": 0}},
  "strokeDash": {"field": "s", "type": "nominal", "scale": {"domain": ["Revised", "Standard"], "range": [[1, 0], [6, 3]]},
   "legend": {"title": null, "orient": "none", "legendX": 220, "legendY": 198, "fillColor": "rgba(255,255,255,0.8)", "strokeColor": "#cccccc", "cornerRadius": 4, "padding": 8, "labelFont": "'DejaVu Serif', serif", "labelFontSize": 13, "labelColor": "#333", "symbolType": "M-1.6,0H1.6", "symbolSize": 400, "symbolStrokeWidth": 2, "symbolOffset": 6, "labelOffset": 13, "rowPadding": 0}}
 }},
{"data": {"name": "boxes"},
 "mark": {"type": "rect", "fill": "white", "fillOpacity": 0.85, "stroke": "#555", "strokeWidth": 1},
 "encoding": {
  "x": {"field": "x1", "type": "quantitative"}, "x2": {"field": "x2"},
  "y": {"field": "y1", "type": "quantitative"}, "y2": {"field": "y2"}
 }},
{"data": {"name": "boxes"},
 "mark": {"type": "text", "font": "'DejaVu Serif', serif", "fontSize": 11.5, "color": "#222", "align": "center", "baseline": "middle"},
 "encoding": {
  "x": {"field": "xc", "type": "quantitative"},
  "y": {"field": "yc", "type": "quantitative"},
  "text": {"field": "label"}
 }}
]
}
